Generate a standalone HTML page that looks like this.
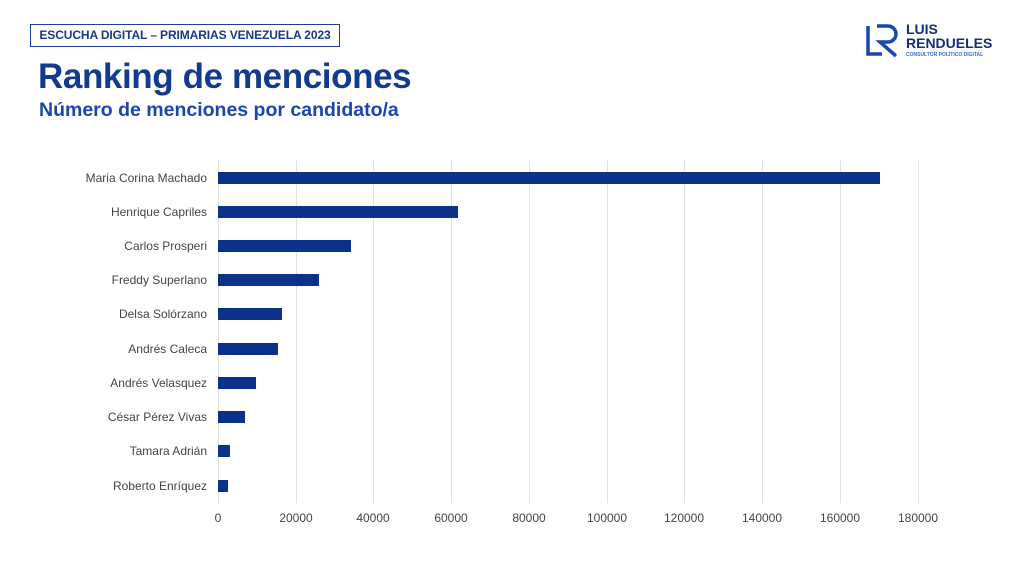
<!DOCTYPE html>
<html><head><meta charset="utf-8"><style>
body{margin:0;width:1024px;height:575px;background:#fff;font-family:"Liberation Sans",sans-serif;overflow:hidden;position:relative}
.box{position:absolute;left:30px;top:24px;width:308px;height:21px;border:1.5px solid #1a3f94;color:#163a8c;font-weight:bold;font-size:12px;line-height:21px;text-align:center;white-space:nowrap;letter-spacing:-0.1px}
.t{position:absolute;left:38px;top:57px;font-size:35px;font-weight:bold;color:#123a8e;letter-spacing:-0.4px}
.s{position:absolute;left:39px;top:99px;font-size:19.5px;font-weight:bold;color:#1a46b0}
.lbl{position:absolute;right:817px;font-size:12px;color:#444;white-space:nowrap}
.tick{position:absolute;top:511px;font-size:12px;color:#444;transform:translateX(-50%)}
.g{position:absolute;top:160px;height:343px;width:1px;background:#e0e0e0}
.bar{position:absolute;left:218px;height:12px;background:#0b3288}
</style></head><body>
<div class="box">ESCUCHA DIGITAL – PRIMARIAS VENEZUELA 2023</div>
<div class="t">Ranking de menciones</div>
<div class="s">Número de menciones por candidato/a</div>
<svg style="position:absolute;left:864px;top:24px" width="40" height="34"><path d="M4 2 V30 H18" stroke="#1a46b0" stroke-width="3.5" fill="none"/><path d="M13 2 H24 a8 8 0 0 1 0 16 H16 L32 32" stroke="#1a46b0" stroke-width="3.5" fill="none"/></svg>
<div style="position:absolute;left:906px;top:22px;font-weight:bold;font-size:14px;line-height:14px;color:#122f7a">LUIS<br>RENDUELES</div>
<div style="position:absolute;left:906px;top:52px;font-size:5px;color:#3a6ad0;font-weight:bold">CONSULTOR POLÍTICO DIGITAL</div>
<div class="g" style="left:218px"></div><div class="g" style="left:296px"></div><div class="g" style="left:373px"></div><div class="g" style="left:451px"></div><div class="g" style="left:529px"></div><div class="g" style="left:607px"></div><div class="g" style="left:684px"></div><div class="g" style="left:762px"></div><div class="g" style="left:840px"></div><div class="g" style="left:918px"></div>
<div class="tick" style="left:218px">0</div><div class="tick" style="left:296px">20000</div><div class="tick" style="left:373px">40000</div><div class="tick" style="left:451px">60000</div><div class="tick" style="left:529px">80000</div><div class="tick" style="left:607px">100000</div><div class="tick" style="left:684px">120000</div><div class="tick" style="left:762px">140000</div><div class="tick" style="left:840px">160000</div><div class="tick" style="left:918px">180000</div>
<div class="bar" style="top:172px;width:662px"></div><div class="lbl" style="top:171px">Maria Corina Machado</div>
<div class="bar" style="top:206px;width:240px"></div><div class="lbl" style="top:205px">Henrique Capriles</div>
<div class="bar" style="top:240px;width:133px"></div><div class="lbl" style="top:239px">Carlos Prosperi</div>
<div class="bar" style="top:274px;width:101px"></div><div class="lbl" style="top:273px">Freddy Superlano</div>
<div class="bar" style="top:308px;width:64px"></div><div class="lbl" style="top:307px">Delsa Solórzano</div>
<div class="bar" style="top:343px;width:60px"></div><div class="lbl" style="top:342px">Andrés Caleca</div>
<div class="bar" style="top:377px;width:38px"></div><div class="lbl" style="top:376px">Andrés Velasquez</div>
<div class="bar" style="top:411px;width:27px"></div><div class="lbl" style="top:410px">César Pérez Vivas</div>
<div class="bar" style="top:445px;width:12px"></div><div class="lbl" style="top:444px">Tamara Adrián</div>
<div class="bar" style="top:480px;width:10px"></div><div class="lbl" style="top:479px">Roberto Enríquez</div>
</body></html>
